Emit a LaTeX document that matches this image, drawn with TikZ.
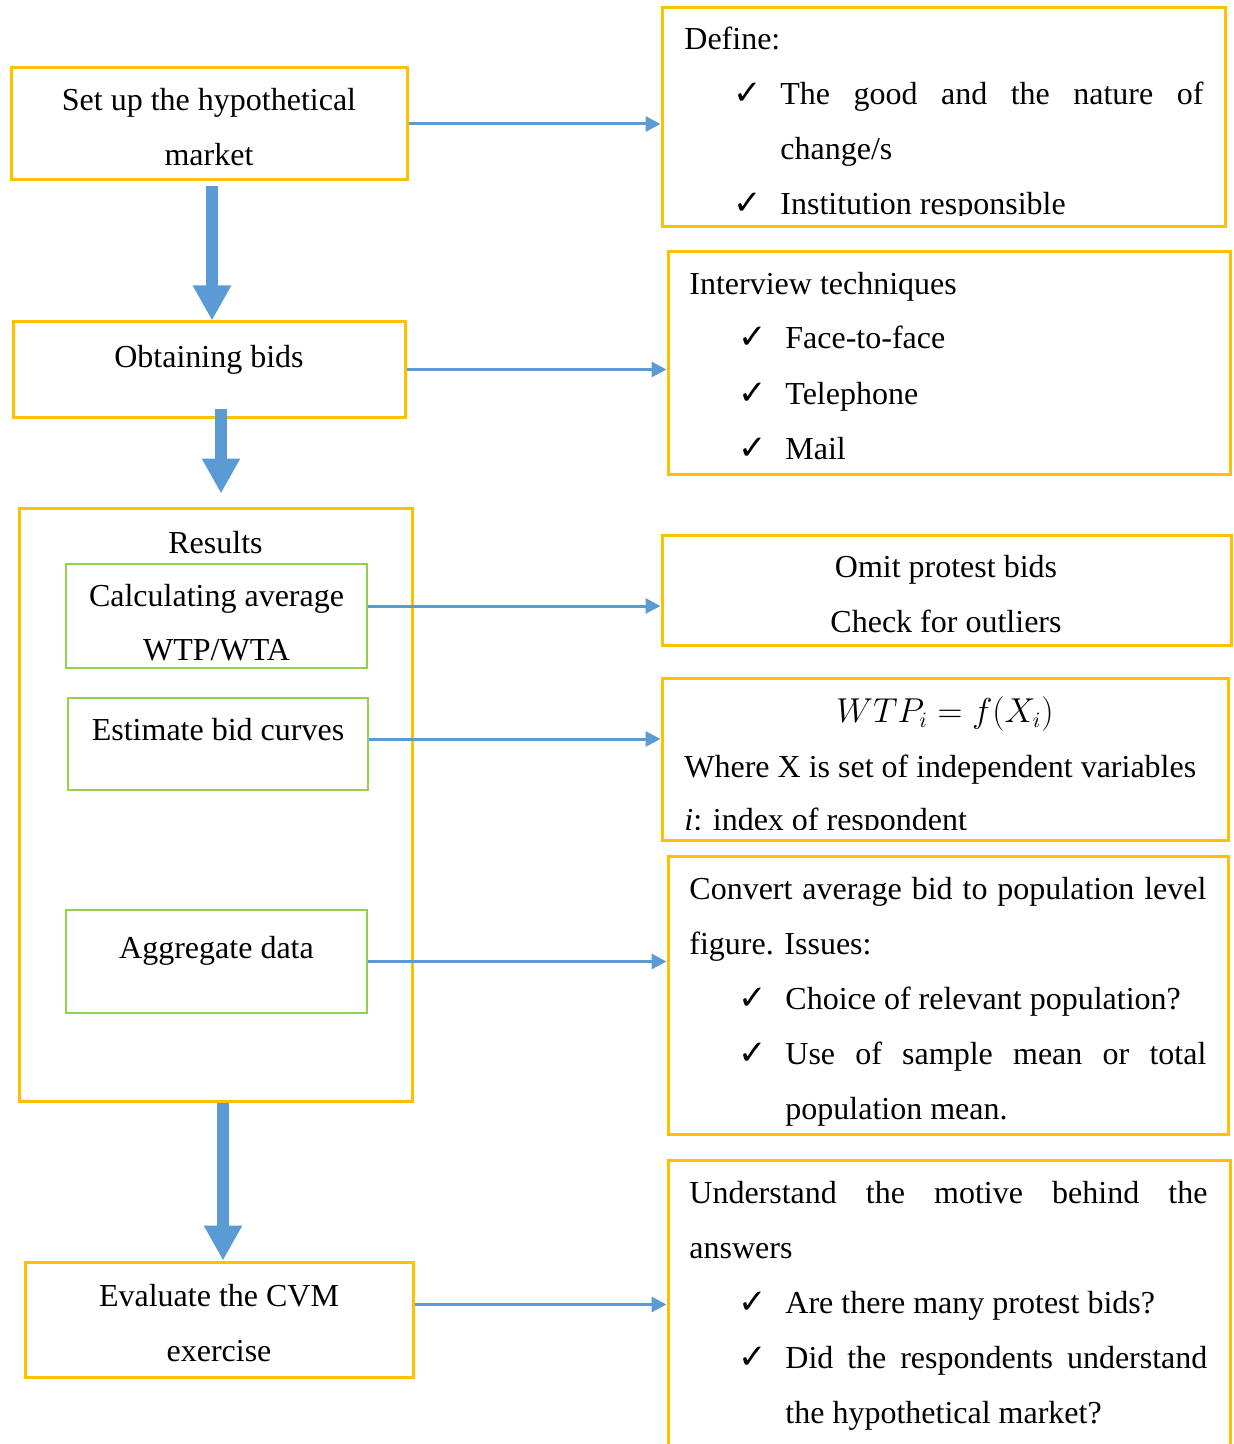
\documentclass[tikz,border=0pt]{standalone}
\usepackage{fontspec}
\setmainfont{Liberation Serif}
\newfontfamily\symfont{DejaVu Sans}
\usetikzlibrary{arrows.meta,calc}
\definecolor{cvmGold}{HTML}{FFC000}
\definecolor{cvmGreen}{HTML}{92D050}
\definecolor{cvmBlue}{HTML}{5B9BD5}
\newcommand{\cvmchk}[1]{\makebox[23.5pt][l]{\symfont\fontsize{17pt}{17pt}\selectfont ✓}#1}
\newcommand{\cvmjust}[2]{\makebox[#1][s]{#2}}
\tikzset{
  cvm step/.style={draw=cvmGold, line width=1.5pt, inner sep=0pt},
  cvm sub/.style={draw=cvmGreen, line width=1.1pt, inner sep=0pt},
  cvm text/.style={font=\fontsize{16pt}{27.5pt}\selectfont, inner sep=0pt, yshift=-1pt},
  cvm flow/.style={draw=cvmBlue, line width=6pt, -{Triangle[width=18pt,length=17.5pt]}},
  cvm link/.style={draw=cvmBlue, line width=1.5pt, -{Triangle[width=7.5pt,length=7.5pt]}},
}
\begin{document}
\begin{tikzpicture}[x=0.5pt,y=-0.5pt]
  \clip (0,0) rectangle (1233,1444);
  % left column
  \node[cvm step, minimum width=198pt, minimum height=56pt] (B1) at (209,124) {};
  \node[cvm text, anchor=base] (B1a) at (209,109) {Set up the hypothetical};
  \node[cvm text, anchor=base] (B1b) at (209,164) {market};
  \node[cvm step, minimum width=196pt, minimum height=47.5pt] (B2) at (209,369.5) {};
  \node[cvm text, anchor=base] (B2a) at (209,365) {Obtaining bids};
  \node[cvm step, minimum width=196.5pt, minimum height=296.5pt] (B3) at (215.5,804.5) {};
  \node[cvm text, anchor=base] (B3a) at (215.5,551) {Results};
  \node[cvm sub, minimum width=150.5pt, minimum height=52pt] (G1) at (216.5,616) {};
  \node[cvm text, anchor=base] (G1a) at (216.5,604) {Calculating average};
  \node[cvm text, anchor=base] (G1b) at (216.5,658) {WTP/WTA};
  \node[cvm sub, minimum width=150pt, minimum height=46pt] (G2) at (218,744) {};
  \node[cvm text, anchor=base] (G2a) at (218,738) {Estimate bid curves};
  \node[cvm sub, minimum width=150.5pt, minimum height=51.5pt] (G3) at (216.5,961.5) {};
  \node[cvm text, anchor=base] (G3a) at (216.5,956) {Aggregate data};
  \node[cvm step, minimum width=194pt, minimum height=57.5pt] (B4) at (219,1319.5) {};
  \node[cvm text, anchor=base] (B4a) at (219,1304) {Evaluate the CVM};
  \node[cvm text, anchor=base] (B4b) at (219,1359) {exercise};

  % right column
  \node[cvm step, minimum width=281.5pt, minimum height=109.5pt] (R1) at (943.5,117.5) {};
  \node[cvm text, anchor=base west] (R1a) at (684,48) {Define:};
  \node[cvm text, anchor=base west] (R1b) at (733,103) {\cvmchk{\cvmjust{211.5pt}{The good and the nature of}}};
  \node[cvm text, anchor=base west] (R1c) at (780,158) {change/s};
  \begin{scope}
    \clip (600,180) rectangle (1220,215.5);
    \node[cvm text, anchor=base west] (R1d) at (733,213) {\cvmchk{Institution responsible}};
  \end{scope}

  \node[cvm step, minimum width=281pt, minimum height=111pt] (R2) at (949,363) {};
  \node[cvm text, anchor=base west] (R2a) at (689,293) {Interview techniques};
  \node[cvm text, anchor=base west] (R2b) at (738,347) {\cvmchk{Face-to-face}};
  \node[cvm text, anchor=base west] (R2c) at (738,402) {\cvmchk{Telephone}};
  \node[cvm text, anchor=base west] (R2d) at (738,457) {\cvmchk{Mail}};

  \node[cvm step, minimum width=284.5pt, minimum height=55pt] (R3) at (946.5,590) {};
  \node[cvm text, anchor=base] (R3a) at (946,575) {Omit protest bids};
  \node[cvm text, anchor=base] (R3b) at (946,630) {Check for outliers};

  \node[cvm step, minimum width=283pt, minimum height=81pt] (R4) at (945,759) {};
  \node[cvm text, anchor=base] (R4a) at (945,720) {$WTP_i = f(X_i)$};
  \node[cvm text, anchor=base west] (R4b) at (684,775) {Where X is set of independent variables};
  \begin{scope}
    \clip (600,790) rectangle (1220,829.5);
    \node[cvm text, anchor=base west] (R4c) at (684,828) {\textit{i}: index of respondent};
  \end{scope}

  \node[cvm step, minimum width=280pt, minimum height=139pt] (R5) at (948,995) {};
  \node[cvm text, anchor=base west] (R5a) at (689,897) {\cvmjust{258.5pt}{Convert average bid to population level}};
  \node[cvm text, anchor=base west] (R5b) at (689,952) {figure. Issues:};
  \node[cvm text, anchor=base west] (R5c) at (738,1007) {\cvmchk{Choice of relevant population?}};
  \node[cvm text, anchor=base west] (R5d) at (738,1062) {\cvmchk{\cvmjust{210.5pt}{Use of sample mean or total}}};
  \node[cvm text, anchor=base west] (R5e) at (785,1117) {population mean.};

  \node[cvm step, minimum width=281pt, minimum height=155pt] (R6) at (949,1315) {};
  \node[cvm text, anchor=base west] (R6a) at (689,1201) {\cvmjust{259pt}{Understand the motive behind the}};
  \node[cvm text, anchor=base west] (R6b) at (689,1256) {answers};
  \node[cvm text, anchor=base west] (R6c) at (738,1311) {\cvmchk{Are there many protest bids?}};
  \node[cvm text, anchor=base west] (R6d) at (738,1366) {\cvmchk{\cvmjust{211pt}{Did the respondents understand}}};
  \node[cvm text, anchor=base west] (R6e) at (785,1421) {the hypothetical market?};

  % flow arrows
  \coordinate (d1) at ($(B1.south)+(3,5)$);
  \draw[cvm flow] (d1) -- (d1 |- B2.north);
  \coordinate (d2) at ($(B2.south)+(12,-10)$);
  \draw[cvm flow, shorten >=6.5pt] (d2) -- (d2 |- B3.north);
  \coordinate (d3) at ($(B3.south)+(7.5,0)$);
  \draw[cvm flow] (d3) -- (d3 |- B4.north);

  % links to the notes
  \draw[cvm link] (B1.east) -- (B1.east -| R1.west);
  \draw[cvm link] (B2.east) -- (B2.east -| R2.west);
  \coordinate (g1) at ($(G1.east)+(0,-10)$);
  \draw[cvm link] (g1) -- (g1 -| R3.west);
  \coordinate (g2) at ($(G2.east)+(0,-5)$);
  \draw[cvm link] (g2) -- (g2 -| R4.west);
  \draw[cvm link] (G3.east) -- (G3.east -| R5.west);
  \coordinate (b4) at ($(B4.east)+(0,-15)$);
  \draw[cvm link] (b4) -- (b4 -| R6.west);
\end{tikzpicture}
\end{document}
